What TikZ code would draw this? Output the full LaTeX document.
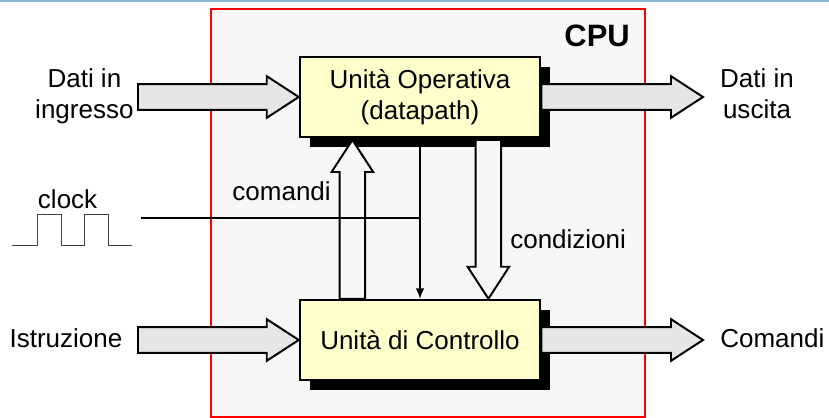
\documentclass[tikz,border=0pt]{standalone}
\usepackage{fontspec}
\setmainfont{Liberation Sans}
\usetikzlibrary{arrows.meta,positioning,calc}
\definecolor{cpubg}{HTML}{F7F7F7}
\definecolor{unitfill}{HTML}{FFFFCC}
\definecolor{busfill}{HTML}{E6E6E6}
\definecolor{topline}{HTML}{8DB3D9}
\newcommand{\fatarrow}[3]{%
  \coordinate (fa-h) at ($(#3)!0.8cm!(#2)$);
  \draw[#1] ($(#2)!0.32cm!-90:(#3)$) -- ($(fa-h)!0.32cm!-90:(#3)$)
    -- ($(fa-h)!0.52cm!-90:(#3)$) -- (#3) -- ($(fa-h)!0.52cm!90:(#3)$)
    -- ($(fa-h)!0.32cm!90:(#3)$) -- ($(#2)!0.32cm!90:(#3)$) -- cycle;}

\begin{document}
\begin{tikzpicture}[
  every node/.style={font=\fontsize{18.5}{22}\selectfont},
  cpubox/.style={rectangle, draw=red, line width=1.8pt, fill=cpubg,
                 minimum width=10.85cm, minimum height=10.2cm},
  unit/.style={rectangle, draw, line width=1.8pt, fill=unitfill, align=center,
               minimum width=6cm, minimum height=2cm},
  lbl/.style={inner sep=0pt, align=center},
  bus/.style={draw, line width=1.4pt, fill=busfill, line join=miter},
  inbus/.style={bus, fill=cpubg},
  sig/.style={line width=1.2pt},
  sigarr/.style={sig, -{Latex[length=2.6mm, width=2.2mm]}},
]
  \useasboundingbox (0,0) rectangle (20.725,-10.45);
  \draw[topline, line width=1pt] (0,-0.02) -- (20.725,-0.02);

  \node[cpubox] (cpu) at (10.7,-5.325) {};
  \node[lbl, anchor=base east, font=\fontsize{22}{26}\selectfont\bfseries]
    (cpulbl) at (15.75,-1.15) {CPU};

  % shadows
  \fill[black] (7.75,-3.675) rectangle (13.75,-1.675);
  \fill[black] (7.75,-9.75) rectangle (13.75,-7.75);

  \node[unit] (op) at (10.5,-2.425) {Unità Operativa\\(datapath)};
  \node[unit] (ctl) at (10.5,-8.5) {Unità di Controllo};

  \node[lbl] (din) at (2.11,-2.41) {Dati in\\ingresso};
  \node[lbl] (dout) at (18.925,-2.35) {Dati in\\uscita};
  \node[lbl, anchor=base] (istr) at (1.65,-8.675) {Istruzione};
  \node[lbl, anchor=base west] (cmdout) at (18.0,-8.675) {Comandi};
  \node[lbl, anchor=base east] (cmdlbl) at (8.275,-5.0) {comandi};
  \node[lbl, anchor=base west] (cndlbl) at (12.75,-6.2) {condizioni};
  \node[lbl, anchor=base] (clklbl) at (1.69,-5.2) {clock};

  \coordinate (in1) at (3.45,-2.425);
  \coordinate (out1) at (17.575,-2.425);
  \coordinate (in2) at (3.45,-8.5);
  \coordinate (out2) at (17.575,-8.5);
  \coordinate (cmdtop) at (8.81,-3.5);
  \coordinate (cmdbot) at (cmdtop |- ctl.north);
  \coordinate (cndtop) at (12.21,-3.5);
  \coordinate (cndbot) at (cndtop |- ctl.north);
  \coordinate (clk) at (3.525,-5.45);

  \fatarrow{bus}{in1}{op.west}
  \fatarrow{bus}{op.east}{out1}
  \fatarrow{bus}{in2}{ctl.west}
  \fatarrow{bus}{ctl.east}{out2}
  \fatarrow{inbus}{cmdbot}{cmdtop}
  \fatarrow{inbus}{cndtop}{cndbot}

  \draw[sigarr] (op.south) -- (ctl.north);
  \draw[sig] (clk) -- (clk -| op.south);

  \draw[black!75, line width=0.7pt] (0.3,-6.125) -- (0.925,-6.125) -- (0.925,-5.35)
    -- (1.525,-5.35) -- (1.525,-6.125) -- (2.1,-6.125) -- (2.1,-5.35)
    -- (2.7,-5.35) -- (2.7,-6.125) -- (3.3,-6.125);
\end{tikzpicture}
\end{document}
